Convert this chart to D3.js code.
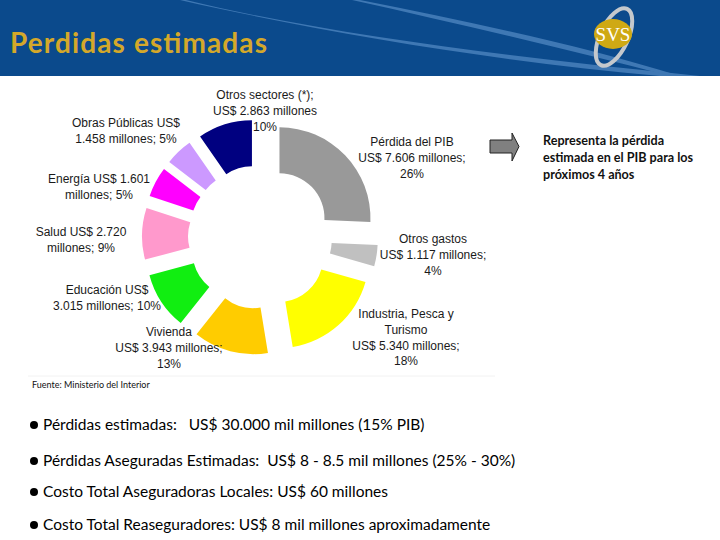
<!DOCTYPE html>
<html>
<head>
<meta charset="utf-8">
<script src="https://cdn.jsdelivr.net/npm/d3@7"></script>
<style>
  body { margin: 0; background: #fff; }
</style>
</head>
<body>
<script>

// chart data (US$ millones)
var sectors = ["Pérdida del PIB", "Otros gastos", "Industria, Pesca y Turismo", "Vivienda",
               "Educación", "Salud", "Energía", "Obras Públicas", "Otros sectores (*)"];
var amounts = [7606, 1117, 5340, 3943, 3015, 2720, 1601, 1458, 2863];
var shares = ["26%", "4%", "18%", "13%", "10%", "9%", "5%", "5%", "10%"];
var sliceColors = ["#999999", "#c0c0c0", "#ffff00", "#ffcc00", "#11ee11",
                   "#ff99cc", "#ff00ff", "#cc99ff", "#000080"];

// label text lines for each slice
var labelLines = [
    ["Pérdida del PIB", "US$ 7.606 millones;", "26%"],
    ["Otros gastos", "US$ 1.117 millones;", "4%"],
    ["Industria, Pesca y", "Turismo", "US$ 5.340 millones;", "18%"],
    ["Vivienda", "US$ 3.943 millones;", "13%"],
    ["Educación US$", "3.015 millones; 10%"],
    ["Salud US$ 2.720", "millones; 9%"],
    ["Energía US$ 1.601", "millones; 5%"],
    ["Obras Públicas US$", "1.458 millones; 5%"],
    ["Otros sectores (*);", "US$ 2.863 millones", "10%"]
];
// where each label block starts (center x, first line y)
var labelPos = [[412, 146], [433, 243], [406, 318], [169, 336], [107, 294],
                [81, 236], [99, 183], [126, 127], [265, 99]];

var bullets = [
    "Pérdidas estimadas:   US$ 30.000 mil millones (15% PIB)",
    "Pérdidas Aseguradas Estimadas:  US$ 8 - 8.5 mil millones (25% - 30%)",
    "Costo Total Aseguradoras Locales: US$ 60 millones",
    "Costo Total Reaseguradores: US$ 8 mil millones aproximadamente"
];
var bulletY = [430, 466, 497, 530];

var W = 720, H = 540;
var svg = d3.select("body").append("svg")
    .attr("width", W)
    .attr("height", H);

// ---- header band
svg.append("rect")
    .attr("x", 0).attr("y", 0)
    .attr("width", W).attr("height", 76)
    .attr("fill", "#0b4a8c");

svg.append("path")
    .attr("d", "M186,0 C330,35 520,58 700,76 L660,76 C500,62 320,32 180,0 Z")
    .attr("fill", "#3f78b4");
svg.append("path")
    .attr("d", "M360,0 C470,22 580,45 680,76 L670,76 C570,50 460,24 352,0 Z")
    .attr("fill", "#3f78b4");

// SVS logo
var logo = svg.append("g").attr("transform", "translate(614,37)");
logo.append("ellipse")
    .attr("rx", 14).attr("ry", 31)
    .attr("transform", "rotate(25)")
    .attr("fill", "none")
    .attr("stroke", "#c4c8cc")
    .attr("stroke-width", 4);
logo.append("ellipse")
    .attr("cx", -1).attr("cy", -3)
    .attr("rx", 19).attr("ry", 15)
    .attr("fill", "#cfa914");
logo.append("text")
    .attr("x", -1).attr("y", 4)
    .attr("text-anchor", "middle")
    .attr("font-family", "Liberation Serif, serif")
    .attr("font-size", 19)
    .attr("fill", "#ffffff")
    .text("SVS");

svg.append("text")
    .attr("x", 10).attr("y", 53)
    .attr("font-family", "Lato, sans-serif")
    .attr("font-size", 28)
    .attr("font-weight", "bold")
    .attr("textLength", 257)
    .attr("fill", "#d4a82a")
    .text("Perdidas estimadas");

// ---- exploded doughnut
var cx = 260, cy = 237, explode = 27;
var pie = d3.pie().sort(null).value(function (d) { return d; });
var arc = d3.arc().innerRadius(45).outerRadius(91);
var slices = pie(amounts);

svg.append("line")
    .attr("x1", 28).attr("x2", 495)
    .attr("y1", 376).attr("y2", 376)
    .attr("stroke", "#f2f2f2");

svg.append("g")
    .attr("transform", "translate(" + cx + "," + cy + ")")
    .selectAll("path")
    .data(slices)
    .enter()
    .append("path")
    .attr("d", arc)
    .attr("fill", function (d, i) { return sliceColors[i]; })
    .attr("transform", function (d) {
        var a = (d.startAngle + d.endAngle) / 2;
        return "translate(" + (explode * Math.sin(a)) + "," + (-explode * Math.cos(a)) + ")";
    })
    .append("title")
    .text(function (d, i) { return sectors[i] + ": " + shares[i]; });

var labels = svg.append("g")
    .attr("font-family", "Liberation Sans, Arial, sans-serif")
    .attr("font-size", 12)
    .attr("fill", "#1a1a1a")
    .attr("text-anchor", "middle");

labelLines.forEach(function (lines, i) {
    var t = labels.append("text")
        .attr("x", labelPos[i][0])
        .attr("y", labelPos[i][1]);
    lines.forEach(function (s, j) {
        t.append("tspan")
            .attr("x", labelPos[i][0])
            .attr("dy", j == 0 ? 0 : 15.8)
            .text(s);
    });
});

// ---- arrow + note
svg.append("path")
    .attr("d", "M490,140 L512,140 L512,133 L519,146.5 L512,161 L512,153 L490,153 Z")
    .attr("fill", "#808080")
    .attr("stroke", "#222")
    .attr("stroke-width", 1);

var note = svg.append("text")
    .attr("font-family", "Lato, sans-serif")
    .attr("font-size", 12.6)
    .attr("font-weight", "bold")
    .attr("fill", "#111");
["Representa la pérdida", "estimada en el PIB para los", "próximos 4 años"].forEach(function (s, j) {
    note.append("tspan").attr("x", 543).attr("y", 145 + j * 17).text(s);
});

svg.append("text")
    .attr("x", 32).attr("y", 388)
    .attr("font-family", "Lato, sans-serif")
    .attr("font-size", 9)
    .attr("fill", "#111")
    .text("Fuente: Ministerio del Interior");

// ---- bullet list
var bl = svg.append("g")
    .attr("font-family", "Lato, sans-serif")
    .attr("font-size", 15.5)
    .attr("fill", "#000");

bullets.forEach(function (s, i) {
    bl.append("circle")
        .attr("cx", 34).attr("cy", bulletY[i] - 5)
        .attr("r", 4)
        .attr("fill", "#000");
    bl.append("text")
        .attr("x", 43).attr("y", bulletY[i])
        .attr("xml:space", "preserve")
        .style("white-space", "pre")
        .text(s);
});

</script>
</body>
</html>
